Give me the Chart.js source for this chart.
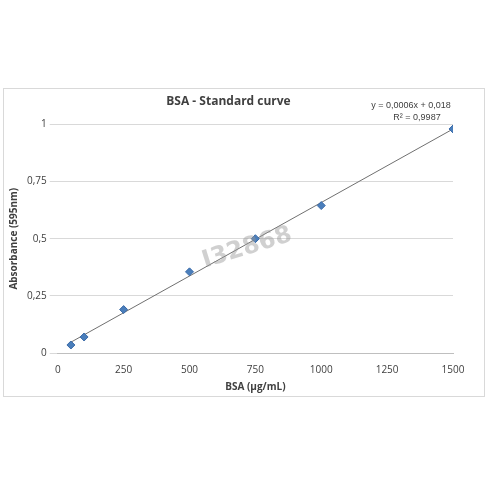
<!DOCTYPE html><html><head><script src="https://cdn.jsdelivr.net/npm/chart.js"></script>
<style>body{margin:0;background:#fff}#w{position:absolute;left:3px;top:88px;width:480px;height:307px;border:1px solid #d9d9d9}</style></head><body><div id="w"><canvas id="c"></canvas></div><script>
const concentrations=[50,100,250,500,750,1000,1500];
const absorbance=[0.035,0.07,0.19,0.355,0.5,0.645,0.98];
const xTicks=[0,250,500,750,1000,1250,1500];
const yTicks=[0,0.25,0.5,0.75,1];
const n=concentrations.length;
const mx=concentrations.reduce((a,b)=>a+b)/n, my=absorbance.reduce((a,b)=>a+b)/n;
let sxy=0,sxx=0;for(let i=0;i<n;i++){sxy+=(concentrations[i]-mx)*(absorbance[i]-my);sxx+=(concentrations[i]-mx)**2;}
const slope=sxy/sxx, icp=my-slope*mx;
const fmt=v=>String(v).replace('.',',');
const wm={id:'wm',afterDraw(c){const x=c.ctx;x.save();x.translate(245,165);x.rotate(-0.3);x.font='bold 24px "DejaVu Sans"';x.fillStyle='rgba(150,150,150,0.45)';x.textAlign='center';x.fillText('I32868',0,0);
x.restore();x.save();x.font='9px "Liberation Sans"';x.fillStyle='#404040';x.textAlign='center';x.fillText('y = 0,0006x + 0,018',407,19);x.fillText('R² = 0,9987',413,31);x.restore();}};
new Chart(document.getElementById('c'),{type:'scatter',data:{datasets:[
{data:concentrations.map((x,i)=>({x,y:absorbance[i]})),pointStyle:'rectRot',pointRadius:4,backgroundColor:'#4a7ebb',borderColor:'#3a6aa8',order:0},
{type:'line',data:[{x:concentrations[0],y:icp+slope*concentrations[0]},{x:1500,y:icp+slope*1500}],borderColor:'#707070',borderWidth:1,pointRadius:0,order:1}]},
options:{responsive:true,maintainAspectRatio:false,animation:false,layout:{padding:{left:0,right:31,top:11,bottom:3}},
plugins:{legend:{display:false},tooltip:{enabled:false},title:{display:true,text:'BSA - Standard curve',font:{family:'"Open Sans"',size:12,weight:'bold'},color:'#404040',padding:{top:-6,bottom:16}}},
scales:{x:{type:'linear',min:0,max:1500,afterBuildTicks:a=>{a.ticks=xTicks.map(v=>({value:v}))},grid:{display:false},border:{color:'#bfbfbf'},ticks:{color:'#404040',callback:v=>String(v),font:{family:'"Open Sans"',size:10}},title:{display:true,text:'BSA (µg/mL)',color:'#404040',padding:{top:2,bottom:0},font:{family:'"Open Sans"',size:10,weight:'bold'}}},
y:{min:0,max:1,afterBuildTicks:a=>{a.ticks=yTicks.map(v=>({value:v}))},grid:{color:'#d9d9d9'},border:{display:false},ticks:{color:'#404040',callback:v=>fmt(v),font:{family:'"Open Sans"',size:10}},title:{display:true,text:'Absorbance (595nm)',color:'#404040',font:{family:'"Open Sans"',size:10,weight:'bold'}}}}},plugins:[wm]});
</script></body></html>
